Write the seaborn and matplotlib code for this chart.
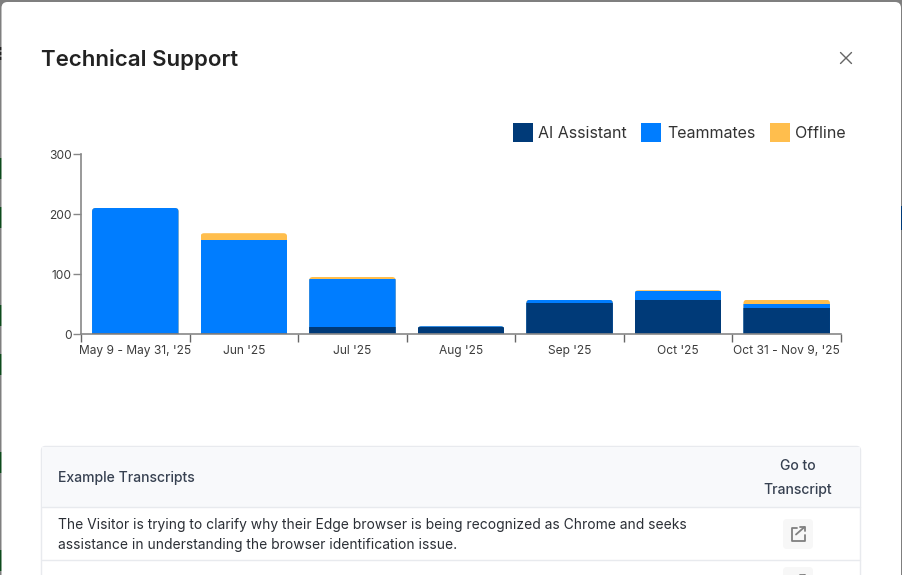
import matplotlib
matplotlib.use("Agg")
import matplotlib.pyplot as plt
from matplotlib.patches import FancyBboxPatch, Rectangle
from matplotlib.transforms import IdentityTransform, ScaledTranslation
import numpy as np
import pandas as pd
import seaborn as sns

periods = ["May 9 - May 31, '25", "Jun '25", "Jul '25", "Aug '25", "Sep '25", "Oct '25", "Oct 31 - Nov 9, '25"]
ai_assistant = [1, 1, 12, 11, 52, 57, 44]
teammates = [209, 156, 80, 2, 5, 15, 6]
offline = [0, 11, 3, 0, 0, 1, 7]
series_names = ["AI Assistant", "Teammates", "Offline"]
series_colors = ["#003a78", "#007dff", "#ffbe4d"]
y_ticks = [0, 100, 200, 300]
title = "Technical Support"
table_header = "Example Transcripts"
table_action = ["Go to", "Transcript"]
row_text = ["The Visitor is trying to clarify why their Edge browser is being recognized as Chrome and seeks",
            "assistance in understanding the browser identification issue."]

W, H = 902, 575
sns.set_theme(style="white")
plt.rcParams["font.family"] = ["Inter", "DejaVu Sans"]
fig = plt.figure(figsize=(W / 100, H / 100), dpi=100, facecolor="#7f7f7f")

# Modal dialog drawn in pixel coordinates
ui = fig.add_axes([0, 0, 1, 1], zorder=0)
ui.set_xlim(0, W); ui.set_ylim(H, 0); ui.axis("off")
for y_a, y_b, edge_x, c in [(158, 179, 0, "#0d4a1c"), (207, 228, 0, "#0d4a1c"), (305, 326, 0, "#0d4a1c"),
                            (354, 375, 0, "#0d4a1c"), (452, 473, 0, "#0d4a1c"), (550, 571, 0, "#0d4a1c"),
                            (47, 50, 0, "#222222"), (52, 55, 0, "#222222"), (57, 60, 0, "#222222"),
                            (206, 230, 900, "#003a78")]:
    ui.add_patch(Rectangle((edge_x, y_a), 2, y_b - y_a, fc=c, ec="none"))
ui.add_patch(FancyBboxPatch((1.5, 2), W - 2.5, H + 20, boxstyle="round,pad=0,rounding_size=6", fc="white", ec="none"))
ui.text(41, 59, title, fontsize=16, fontweight=600, color="#222222", va="center", ha="left")
ui.plot([840.5, 851.5], [52.5, 63.5], color="#666666", lw=1.0)
ui.plot([840.5, 851.5], [63.5, 52.5], color="#666666", lw=1.0)

line = "#e8eaee"
ui.add_patch(FancyBboxPatch((41.5, 446.5), 819, 140, boxstyle="round,pad=0,rounding_size=4", fc="white", ec=line, lw=1))
ui.add_patch(Rectangle((42, 447), 818, 60, fc="#f8f9fb", ec="none"))
ui.plot([42, 860], [507, 507], color=line, lw=1)
ui.plot([42, 860], [560, 560], color=line, lw=1)
ui.text(58, 478, table_header, fontsize=10.08, fontweight=500, color="#374151", va="center")
ui.text(798, 465.5, table_action[0], fontsize=10.08, fontweight=500, color="#374151", va="center", ha="center")
ui.text(798, 490, table_action[1], fontsize=10.08, fontweight=500, color="#374151", va="center", ha="center")
ui.text(58, 525, row_text[0], fontsize=9.97, color="#2b2f36", va="center")
ui.text(58, 545, row_text[1], fontsize=9.97, color="#2b2f36", va="center")
for y0 in (519, 567):
    ui.add_patch(FancyBboxPatch((783, y0), 30, 30, boxstyle="round,pad=0,rounding_size=4", fc="#f7f7f7", ec="none"))
    cy = y0 + 15
    ui.plot([797, 791.5, 791.5, 804.5, 804.5], [cy - 6.5, cy - 6.5, cy + 7, cy + 7, cy + 1], color="#808080", lw=1.3)
    ui.plot([796, 804.5], [cy + 0.5, cy - 7], color="#808080", lw=1.3)
    ui.plot([800, 805, 805], [cy - 7, cy - 7, cy - 3], color="#808080", lw=1.3)

# Chart
ax = fig.add_axes([81 / W, (H - 334) / H, 760 / W, 180 / H], zorder=1)
ax.patch.set_alpha(0)
values = np.array([ai_assistant, teammates, offline], dtype=float)
cum = np.cumsum(values, axis=0)
bar_w = 86.5 / (760 / 7)
handles = []
groups = []
for i in (2, 1, 0):
    df = pd.DataFrame({"period": periods, "count": cum[i]})
    before = len(ax.patches)
    sns.barplot(data=df, x="period", y="count", order=periods, color=series_colors[i],
                saturation=1, width=bar_w, ax=ax, errorbar=None, linewidth=0)
    groups.append(ax.patches[before:])
    handles.append(Rectangle((0, 0), 1, 1, fc=series_colors[i], ec="none", label=series_names[i]))
handles = handles[::-1]

ax.set_xlim(-0.5, 6.5)
ax.set_ylim(0, 300)
ax.set_xlabel(""); ax.set_ylabel("")
ax.set_yticks(y_ticks)
ax.set_xticks(np.arange(len(periods) + 1) - 0.5)
ax.set_xticklabels([])
ax.set_xticks(np.arange(len(periods)), labels=periods, minor=True)
ax.tick_params(axis="x", which="major", length=6, width=1, color="#666666", bottom=True)
ax.tick_params(axis="x", which="minor", length=0, pad=8, labelsize=8.64, labelcolor="#3d3d3d", bottom=False)
ax.tick_params(axis="y", length=6, width=1, color="#888888", left=True, labelsize=8.64, labelcolor="#3d3d3d", pad=0.6)
shift = ScaledTranslation(0, -0.5 / 100, fig.dpi_scale_trans)
for lab in ax.get_yticklabels():
    lab.set_transform(lab.get_transform() + shift)
sns.despine(ax=ax)
for s in ("left", "bottom"):
    ax.spines[s].set_color("#888888")
    ax.spines[s].set_linewidth(1.2)
    ax.spines[s].set_zorder(5)

# Round the top corners of every stack
fig.canvas.draw()
for j, top_bar in enumerate(groups[0]):
    (x0, y0), (x1, y1) = ax.transData.transform(
        [(top_bar.get_x(), 0), (top_bar.get_x() + top_bar.get_width(), top_bar.get_height())])
    clip = FancyBboxPatch((x0, y0 - 10), x1 - x0, y1 - y0 + 10, boxstyle="round,pad=0,rounding_size=3.5",
                          transform=IdentityTransform(), fc="none", ec="none")
    for g in groups:
        g[j].set_clip_path(clip)

leg = ax.legend(handles=handles, ncol=3, frameon=False, fontsize=11.5, loc="lower right",
                bbox_to_anchor=(846 / W, (H - 142) / H), bbox_transform=fig.transFigure,
                borderpad=0, borderaxespad=0, handlelength=1.25, handleheight=1.5,
                handletextpad=0.36, columnspacing=0.9, labelcolor="#333333")

fig.savefig("out.png", dpi=100, facecolor=fig.get_facecolor())
